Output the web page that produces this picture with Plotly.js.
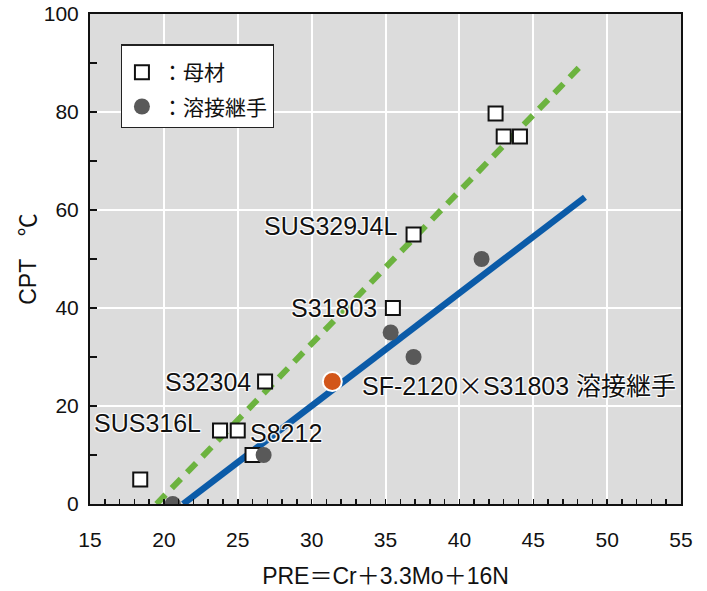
<!DOCTYPE html>
<html>
<head>
<meta charset="utf-8">
<script src="https://cdn.plot.ly/plotly-3.0.1.min.js"></script>
<style>html,body{margin:0;padding:0;background:#fff;}#chart{width:707px;height:591px;}</style>
</head>
<body>
<div id="chart"></div>
<script>
// Base metal (母材) points
const baseX = [18.4, 23.8, 25.0, 26.0, 26.85, 35.5, 36.9, 42.45, 43.0, 44.1];
const baseY = [5, 15, 15, 10, 25, 40, 55, 79.7, 75, 75];
// Weld joint (溶接継手) points
const weldX = [20.6, 26.75, 35.35, 36.9, 41.5];
const weldY = [0, 10, 35, 30, 50];
// Highlighted weld joint SF-2120×S31803
const sfX = [31.4];
const sfY = [25];
// Trend lines
const baseLineX = [19.5, 48.5];
const baseLineY = [0, 90.3];
const weldLineX = [21.3, 48.5];
const weldLineY = [0, 62.6];
// Labels
const baseLabels = ["", "SUS316L", "S8212", "", "S32304", "S31803", "SUS329J4L"];
const sfLabel = 'SF-2120<span style="font-family:\'Noto Sans CJK JP\'">×</span>S31803 溶接継手';

const FONT = '"Liberation Sans", Arial, "Noto Sans CJK JP", sans-serif';
const halo = '1px 1px 1px #fff, -1px -1px 1px #fff, 1px -1px 1px #fff, -1px 1px 1px #fff';

const traces = [
  {x: baseLineX, y: baseLineY, mode: 'lines', showlegend: false, hoverinfo: 'skip',
   line: {color: '#6cb33f', width: 6, dash: '13px,9px'}},
  {x: weldLineX, y: weldLineY, mode: 'lines', showlegend: false, hoverinfo: 'skip',
   line: {color: '#0b5ba8', width: 6.5}},
  {x: baseX, y: baseY, mode: 'markers', name: '：母材', legendgroup: 'a',
   marker: {symbol: 'square', size: 14, color: '#ffffff', line: {color: '#111', width: 2}}},
  {x: weldX, y: weldY, mode: 'markers', name: '：溶接継手', legendgroup: 'b',
   marker: {symbol: 'circle', size: 16, color: '#595959', line: {width: 0}}},
  {x: sfX, y: sfY, mode: 'markers', showlegend: false,
   marker: {symbol: 'circle', size: 19, color: '#d2561a', line: {color: '#fff', width: 2}}}
];

const ann = (text, x, y, xanchor, xshift, yshift) => ({
  text, x, y, xref: 'x', yref: 'y', xanchor, yanchor: 'middle', xshift, yshift,
  showarrow: false, font: {family: FONT, size: 25, color: '#111', shadow: halo}
});

const annotations = [
  ann(baseLabels[6], baseX[6], baseY[6], 'right', -14, 9),
  ann(baseLabels[5], baseX[5], baseY[5], 'right', -14, 0),
  ann(baseLabels[4], baseX[4], baseY[4], 'right', -12, 0),
  ann(baseLabels[1], baseX[1], baseY[1], 'right', -17, 8),
  ann(baseLabels[2], baseX[2], baseY[2], 'left', 10, -2),
  ann(sfLabel, sfX[0], sfY[0], 'left', 28, -2)
];

const layout = {
  width: 707, height: 591,
  margin: {l: 90, r: 26, t: 14, b: 87},
  paper_bgcolor: '#ffffff',
  plot_bgcolor: '#dcdcdc',
  font: {family: FONT, size: 21, color: '#111'},
  showlegend: true,
  legend: {
    x: 0.052, y: 0.938, xanchor: 'left', yanchor: 'top',
    bgcolor: '#ffffff', bordercolor: '#222', borderwidth: 1.2,
    font: {family: FONT, size: 21, color: '#111'},
    title: {text: ' ', font: {size: 5}},
    tracegroupgap: 4, itemsizing: 'trace'
  },
  xaxis: {
    range: [15, 55], dtick: 5, tick0: 15, showgrid: true, gridcolor: '#ffffff', gridwidth: 2,
    zeroline: false, showline: true, linecolor: '#111', linewidth: 2, mirror: true,
    ticks: 'inside', ticklen: 5, tickcolor: '#111', tickwidth: 1.5,
    minor: {dtick: 1, ticks: 'inside', ticklen: 5, tickcolor: '#111', tickwidth: 1.5, showgrid: false},
    ticklabelstandoff: 16,
    tickfont: {family: FONT, size: 21, color: '#111'},
    title: {text: 'PRE＝Cr＋3.3Mo＋16N', font: {family: FONT, size: 23, color: '#111'}, standoff: 18}
  },
  yaxis: {
    range: [0, 100], dtick: 20, showgrid: true, gridcolor: '#ffffff', gridwidth: 2,
    zeroline: false, showline: true, linecolor: '#111', linewidth: 2, mirror: true,
    ticks: 'inside', ticklen: 7, tickcolor: '#111', tickwidth: 1.5,
    minor: {dtick: 10, ticks: 'inside', ticklen: 7, tickcolor: '#111', tickwidth: 1.5, showgrid: false},
    ticklabelstandoff: 5,
    tickfont: {family: FONT, size: 21, color: '#111'},
    title: {text: 'CPT　℃', font: {family: FONT, size: 23, color: '#111'}, standoff: 1}
  },
  annotations
};

Plotly.newPlot('chart', traces, layout, {displayModeBar: false, staticPlot: true});
</script>
</body>
</html>
